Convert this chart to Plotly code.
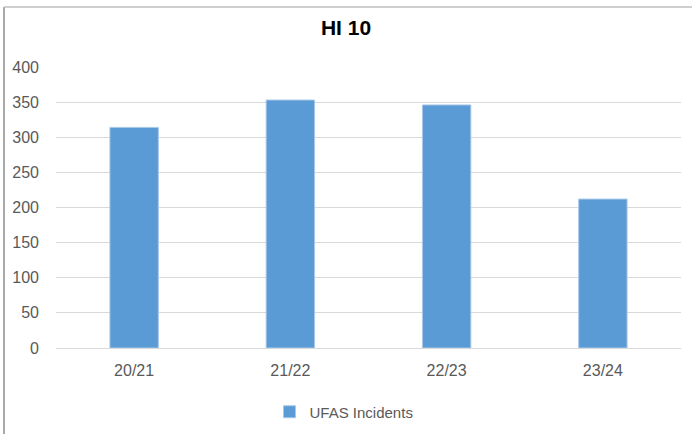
import plotly.graph_objects as go

categories = ["20/21", "21/22", "22/23", "23/24"]
ufas_incidents = [314, 353, 346, 212]
y_ticks = [0, 50, 100, 150, 200, 250, 300, 350, 400]

W, H = 692, 434
L, R, T, B = 56, 11, 67, 86
pw, ph = W - L - R, H - T - B

def px(x):
    return (x - L) / pw

def py(y):
    return (H - B - y) / ph

fig = go.Figure()
fig.add_trace(go.Bar(
    x=categories, y=ufas_incidents, name="UFAS Incidents",
    marker=dict(color="#5b9bd5", line=dict(color="#a9c8ea", width=1)),
))

fig.update_layout(
    width=W, height=H,
    margin=dict(l=L, r=R, t=T, b=B, autoexpand=False),
    paper_bgcolor="white", plot_bgcolor="white",
    bargap=0.69,
    title=dict(text="<b>HI 10</b>", x=0.5, xanchor="center", y=1 - 28 / H, yanchor="middle",
               font=dict(family="Liberation Sans, Arial", size=21, color="#000000")),
    font=dict(family="Liberation Sans, Arial", color="#595959", size=16),
    showlegend=True,
    legend=dict(orientation="h", x=px(344), xanchor="center", y=py(412), yanchor="middle",
                font=dict(size=15, color="#595959"), itemwidth=30),
    xaxis=dict(showgrid=False, showline=True, linecolor="#d9d9d9", linewidth=1,
               ticks="", tickfont=dict(size=16, color="#595959"), ticklabelstandoff=8),
    yaxis=dict(range=[0, 400], tickvals=y_ticks, showgrid=True, gridcolor="#d9d9d9",
               gridwidth=1, zeroline=False, showline=False, ticks="",
               tickfont=dict(size=16, color="#595959"), ticklabelstandoff=16),
    shapes=[
        dict(type="line", xref="paper", yref="paper", x0=px(4), x1=px(4), y0=py(7), y1=py(434),
             line=dict(color="#8c8c8c", width=1.5)),
        dict(type="line", xref="paper", yref="paper", x0=px(4), x1=px(692), y0=py(7), y1=py(7),
             line=dict(color="#bfbfbf", width=1.5)),
    ],
)

fig.write_html("out.html", config={"displayModeBar": False},
               post_script="document.body.style.margin='0';document.body.style.overflow='hidden';")
